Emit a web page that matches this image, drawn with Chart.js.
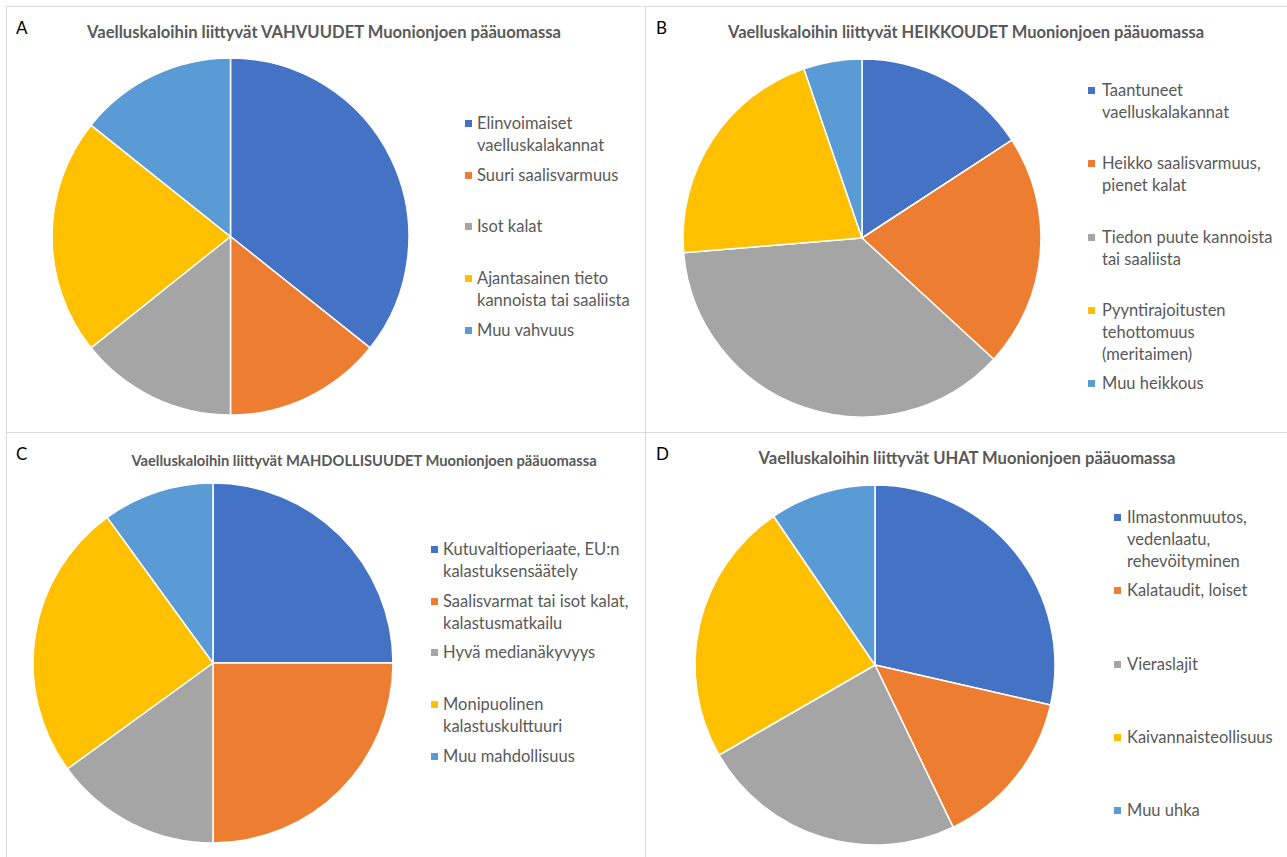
<!DOCTYPE html>
<html>
<head>
<meta charset="utf-8">
<script src="https://cdn.jsdelivr.net/npm/chart.js@4.4.0/dist/chart.umd.min.js"></script>
<style>
  body { margin: 0; background: #fff; width: 1287px; height: 857px; position: relative; overflow: hidden; font-family: Lato, "Open Sans", sans-serif; }
  .line { position: absolute; background: #d9d9d9; }
  .letter { position: absolute; font-size: 17px; color: #000; line-height: 20px; }
  .title { position: absolute; font-weight: bold; color: #595959; white-space: nowrap; transform: translateX(-50%); line-height: 20px; }
  .pie { position: absolute; }
  .legend { position: absolute; color: #595959; font-size: 16.5px; line-height: 22px; }
  .item { position: absolute; left: 0; white-space: nowrap; }
  .mark { position: absolute; left: 0; width: 7px; height: 7px; }
</style>
</head>
<body>
<div class="line" style="left:6px;top:6px;width:1281px;height:1px"></div>
<div class="line" style="left:6px;top:6px;width:1px;height:851px"></div>
<div class="line" style="left:645px;top:6px;width:1px;height:851px"></div>
<div class="line" style="left:6px;top:432px;width:1281px;height:1px"></div>

<script>
"use strict";

const colors = ["#4472C4", "#ED7D31", "#A5A5A5", "#FFC000", "#5B9BD5"];

// A - vahvuudet
const titleA = "Vaelluskaloihin liittyvät VAHVUUDET Muonionjoen pääuomassa";
const labelsA = [["Elinvoimaiset", "vaelluskalakannat"], "Suuri saalisvarmuus", "Isot kalat", ["Ajantasainen tieto", "kannoista tai saaliista"], "Muu vahvuus"];
const valuesA = [5, 2, 2, 3, 2];

// B - heikkoudet
const titleB = "Vaelluskaloihin liittyvät HEIKKOUDET Muonionjoen pääuomassa";
const labelsB = [["Taantuneet", "vaelluskalakannat"], ["Heikko saalisvarmuus,", "pienet kalat"], ["Tiedon puute kannoista", "tai saaliista"], ["Pyyntirajoitusten", "tehottomuus", "(meritaimen)"], "Muu heikkous"];
const valuesB = [3, 4, 7, 4, 1];

// C - mahdollisuudet
const titleC = "Vaelluskaloihin liittyvät MAHDOLLISUUDET Muonionjoen pääuomassa";
const labelsC = [["Kutuvaltioperiaate, EU:n", "kalastuksensäätely"], ["Saalisvarmat tai isot kalat,", "kalastusmatkailu"], "Hyvä medianäkyvyys", ["Monipuolinen", "kalastuskulttuuri"], "Muu mahdollisuus"];
const valuesC = [5, 5, 3, 5, 2];

// D - uhat
const titleD = "Vaelluskaloihin liittyvät UHAT Muonionjoen pääuomassa";
const labelsD = [["Ilmastonmuutos,", "vedenlaatu,", "rehevöityminen"], "Kalataudit, loiset", "Vieraslajit", "Kaivannaisteollisuus", "Muu uhka"];
const valuesD = [6, 3, 5, 5, 2];

const panels = [
  { letter: "A", title: titleA, labels: labelsA, values: valuesA,
    lx: 16, ly: 18, tx: 324, ty: 22, tsize: 16.6,
    cx: 230.5, cy: 236.5, r: 178.5,
    legX: 465, legY: 112, pitch: 51.7, textX: 12 },
  { letter: "B", title: titleB, labels: labelsB, values: valuesB,
    lx: 656, ly: 18, tx: 966, ty: 22, tsize: 16.5,
    cx: 862, cy: 237.5, r: 179,
    legX: 1088, legY: 79, pitch: 73.3, textX: 14 },
  { letter: "C", title: titleC, labels: labelsC, values: valuesC,
    lx: 16, ly: 444, tx: 364, ty: 450, tsize: 14.7,
    cx: 212.5, cy: 663, r: 180,
    legX: 431, legY: 538, pitch: 51.7, textX: 12 },
  { letter: "D", title: titleD, labels: labelsD, values: valuesD,
    lx: 656, ly: 444, tx: 967, ty: 448, tsize: 16.6,
    cx: 875, cy: 665, r: 180,
    legX: 1114, legY: 506, pitch: 73.3, textX: 13 }
];

function addDiv(cls, style, text) {
  const d = document.createElement("div");
  d.className = cls;
  Object.assign(d.style, style);
  if (text !== undefined) d.textContent = text;
  document.body.appendChild(d);
  return d;
}

panels.forEach(p => {
  addDiv("letter", { left: p.lx + "px", top: p.ly + "px" }, p.letter);
  addDiv("title", { left: p.tx + "px", top: p.ty + "px", fontSize: p.tsize + "px" }, p.title);

  // legend
  const leg = addDiv("legend", { left: p.legX + "px", top: p.legY + "px" });
  p.labels.forEach((lab, i) => {
    const item = document.createElement("div");
    item.className = "item";
    item.style.top = (i * p.pitch) + "px";
    const m = document.createElement("div");
    m.className = "mark";
    m.style.top = "8px";
    m.style.background = colors[i];
    item.appendChild(m);
    const t = document.createElement("div");
    t.style.marginLeft = p.textX + "px";
    const lines = Array.isArray(lab) ? lab : [lab];
    lines.forEach((ln, k) => {
      if (k > 0) t.appendChild(document.createElement("br"));
      t.appendChild(document.createTextNode(ln));
    });
    item.appendChild(t);
    leg.appendChild(item);
  });

  // pie
  const size = Math.ceil(p.r * 2 + 8);
  const c = document.createElement("canvas");
  c.className = "pie";
  c.width = size;
  c.height = size;
  c.style.left = (p.cx - size / 2) + "px";
  c.style.top = (p.cy - size / 2) + "px";
  document.body.appendChild(c);

  new Chart(c, {
    type: "pie",
    data: {
      labels: p.labels,
      datasets: [{
        data: p.values,
        backgroundColor: colors,
        borderColor: "#ffffff",
        borderWidth: 1.5,
        hoverOffset: 0
      }]
    },
    options: {
      responsive: false,
      animation: false,
      radius: p.r,
      layout: { padding: 0 },
      plugins: { legend: { display: false }, tooltip: { enabled: false } }
    }
  });
});
</script>
</body>
</html>
